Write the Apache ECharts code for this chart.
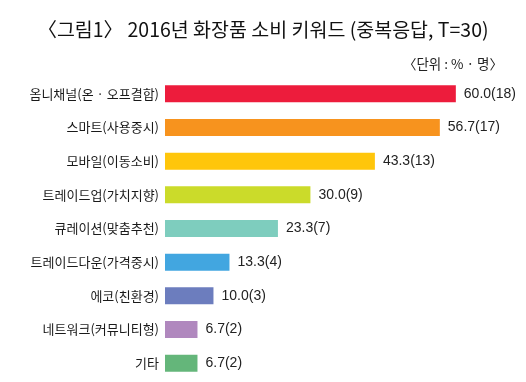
<!DOCTYPE html>
<html><head><meta charset="utf-8">
<script src="https://cdn.jsdelivr.net/npm/echarts@6/dist/echarts.min.js"></script>
<style>html,body{margin:0;padding:0;background:#fff}#c{width:526px;height:382px}</style>
</head><body><div id="c"></div>
<script>
const categories = ['옴니채널(온 · 오프결합)','스마트(사용중시)','모바일(이동소비)','트레이드업(가치지향)','큐레이션(맞춤추천)','트레이드다운(가격중시)','에코(친환경)','네트워크(커뮤니티형)','기타'];
const percents = [60.0, 56.7, 43.3, 30.0, 23.3, 13.3, 10.0, 6.7, 6.7];
const counts = [18, 17, 13, 9, 7, 4, 3, 2, 2];
const colors = ['#ED1C3C','#F7931E','#FFC60B','#CBDB2A','#7ECDBE','#42A6E0','#6C7DBE','#B088BE','#64B67A'];

const chart = echarts.init(document.getElementById('c'));
const font = '"Noto Sans CJK KR", "Noto Sans", sans-serif';
chart.setOption({
  animation: false,
  title: [{
    text: '〈그림1〉 2016년 화장품 소비 키워드 (중복응답, T=30)',
    left: 'center', top: 15,
    textStyle: {fontFamily: font, fontSize: 19.5, fontWeight: 'normal', color: '#111'}
  }, {
    text: '〈단위 : % · 명〉',
    right: 18, top: 52,
    textStyle: {fontFamily: font, fontSize: 13.5, fontWeight: 'normal', color: '#222'}
  }],
  grid: {left: 165, right: 12, top: 77, bottom: 2, containLabel: false},
  xAxis: {type: 'value', min: 0, max: 72, show: false},
  yAxis: {
    type: 'category', data: categories, inverse: true,
    axisLine: {show: false}, axisTick: {show: false},
    axisLabel: {fontFamily: font, fontSize: 13, color: '#1a1a1a', margin: 6}
  },
  series: [{
    type: 'bar', barWidth: 17,
    data: percents.map((v, i) => ({value: v, itemStyle: {color: colors[i]}})),
    label: {
      show: true, position: 'right', distance: 8,
      fontFamily: '"Liberation Sans", Arial, sans-serif', fontSize: 14, color: '#222',
      formatter: p => percents[p.dataIndex].toFixed(1) + '(' + counts[p.dataIndex] + ')'
    }
  }]
});
</script></body></html>
